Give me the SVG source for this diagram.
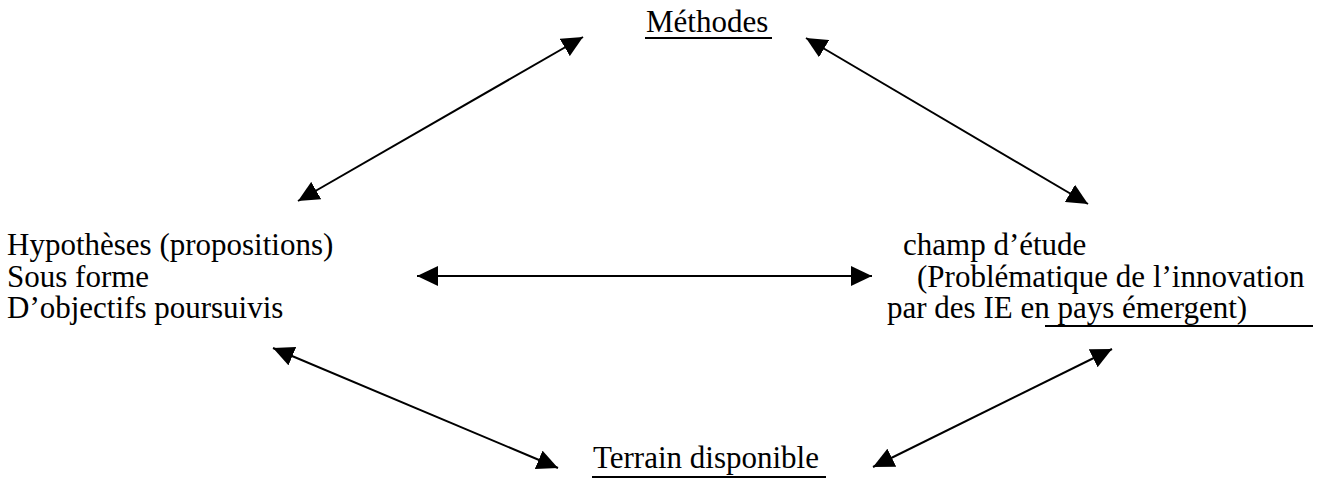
<svg xmlns="http://www.w3.org/2000/svg" width="1322" height="482" viewBox="0 0 1322 482">
  <style>
    text { font-family: "Liberation Serif", "Times New Roman", serif; font-size: 31px; fill: #000; }
    .ul { stroke: #000; stroke-width: 2; }
    .link { stroke: #000; stroke-width: 2; fill: none; marker-start: url(#head); marker-end: url(#head); }
  </style>
  <defs>
    <marker id="head" viewBox="0 0 21 20" refX="21" refY="10" markerWidth="21" markerHeight="20" markerUnits="userSpaceOnUse" orient="auto-start-reverse">
      <path d="M0,0 L21,10 L0,20 Z" fill="#000"/>
    </marker>
  </defs>
  <rect width="1322" height="482" fill="#fff"/>

  <g id="methodes">
    <text x="646" y="32">Méthodes</text>
    <line class="ul" x1="645" y1="38" x2="772" y2="38"/>
  </g>

  <g id="hypotheses">
    <text>
      <tspan x="7" y="255">Hypothèses (propositions)</tspan>
      <tspan x="7" y="287">Sous forme</tspan>
      <tspan x="7" y="318">D’objectifs poursuivis</tspan>
    </text>
  </g>

  <g id="champ">
    <text>
      <tspan x="903" y="255">champ d’étude</tspan>
      <tspan x="917" y="287">(Problématique de l’innovation</tspan>
      <tspan x="887" y="318">par des IE en pays émergent)</tspan>
    </text>
    <line class="ul" x1="1045" y1="326" x2="1313" y2="326"/>
  </g>

  <g id="terrain">
    <text x="593" y="468">Terrain disponible</text>
    <line class="ul" x1="592" y1="477" x2="826" y2="477"/>
  </g>

  <g id="connectors">
    <path class="link" d="M298,201 L583,37"/>
    <path class="link" d="M806,38 L1088,204"/>
    <path class="link" d="M417,276 L872,276"/>
    <path class="link" d="M273,348 L558,468"/>
    <path class="link" d="M1112,349 L873,467"/>
  </g>
</svg>
